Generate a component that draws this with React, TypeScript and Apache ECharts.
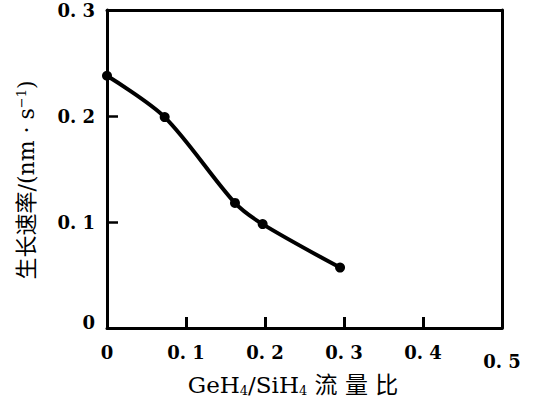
import React, { useEffect, useRef } from "react";
import * as echarts from "echarts";

const flowRatio = [0, 0.073, 0.162, 0.197, 0.295];
const growthRate = [0.238, 0.199, 0.118, 0.098, 0.057];
const xTickLabels: Record<string, string> = { "0": "0", "0.1": "0. 1", "0.2": "0. 2", "0.3": "0. 3", "0.4": "0. 4", "0.5": "0. 5" };
const yTickLabels: Record<string, string> = { "0": "0", "0.1": "0. 1", "0.2": "0. 2", "0.3": "0. 3" };
const xTitle = "GeH{sub|4}/SiH{sub|4} 流 量 比";
const yTitle = "生长速率/(nm · s{sup|−1})";

const FONT = "'DejaVu Serif', 'Noto Sans CJK SC', serif";

export default function App() {
  const ref = useRef<HTMLDivElement>(null);
  useEffect(() => {
    if (!ref.current) return;
    const chart = echarts.init(ref.current, null, { renderer: "svg" });
    const key = (v: number) => String(Math.round(v * 10) / 10);
    const labelCommon = { color: "#000", fontFamily: FONT, fontWeight: "bold", fontSize: 18 };
    const frameAxis = {
      type: "value",
      interval: 0.1,
      axisLine: { show: true, onZero: false, lineStyle: { color: "#000", width: 3 } },
      axisTick: { show: false },
      axisLabel: { show: false },
      splitLine: { show: false },
    };
    chart.setOption({
      animation: false,
      backgroundColor: "#fff",
      grid: { left: 107, right: 34, top: 10, bottom: 72 },
      xAxis: [
        {
          type: "value",
          position: "bottom",
          min: 0,
          max: 0.5,
          interval: 0.1,
          axisLine: { show: true, onZero: false, lineStyle: { color: "#000", width: 3 } },
          axisTick: { show: true, inside: true, length: 11, lineStyle: { color: "#000", width: 3 } },
          splitLine: { show: false },
          axisLabel: {
            margin: 15,
            ...labelCommon,
            formatter: (v: number) => {
              const k = key(v);
              if (k === "0.5") return "{f|" + xTickLabels[k] + "}";
              return xTickLabels[k] ?? "";
            },
            rich: { f: { padding: [10, 0, 0, 0], ...labelCommon } },
          },
        },
        { ...frameAxis, position: "top", min: 0, max: 0.5 },
      ],
      yAxis: [
        {
          type: "value",
          position: "left",
          min: 0,
          max: 0.3,
          interval: 0.1,
          axisLine: { show: true, onZero: false, lineStyle: { color: "#000", width: 3 } },
          axisTick: { show: true, inside: true, length: 11, lineStyle: { color: "#000", width: 2.5 } },
          splitLine: { show: false },
          axisLabel: {
            margin: 12,
            ...labelCommon,
            formatter: (v: number) => {
              const k = key(v);
              if (k === "0") return "{z|0}";
              return yTickLabels[k] ?? "";
            },
            rich: { z: { padding: [0, 0, 12, 0], ...labelCommon } },
          },
        },
        { ...frameAxis, position: "right", min: 0, max: 0.3 },
      ],
      graphic: [
        {
          type: "text",
          x: 293,
          y: 385,
          style: {
            text: xTitle,
            fill: "#000",
            font: "23px " + FONT,
            align: "center",
            verticalAlign: "middle",
            rich: { sub: { fontSize: 13, verticalAlign: "bottom", padding: [10, 0, 0, 0], fill: "#000", fontFamily: FONT } },
          },
        },
        {
          type: "text",
          x: 26,
          y: 180,
          rotation: Math.PI / 2,
          style: {
            text: yTitle,
            fill: "#000",
            font: "22px " + FONT,
            align: "center",
            verticalAlign: "middle",
            rich: { sup: { fontSize: 13, verticalAlign: "top", padding: [0, 0, 10, 0], fill: "#000", fontFamily: FONT } },
          },
        },
      ],
      series: [
        {
          type: "line",
          xAxisIndex: 0,
          yAxisIndex: 0,
          data: flowRatio.map((x, i) => [x, growthRate[i]]),
          smooth: 0.3,
          symbol: "circle",
          symbolSize: 10,
          itemStyle: { color: "#000" },
          lineStyle: { color: "#000", width: 4 },
        },
      ],
    });
    return () => chart.dispose();
  }, []);
  return <div ref={ref} style={{ width: 536, height: 400, position: "absolute", left: 0, top: 0 }} />;
}
